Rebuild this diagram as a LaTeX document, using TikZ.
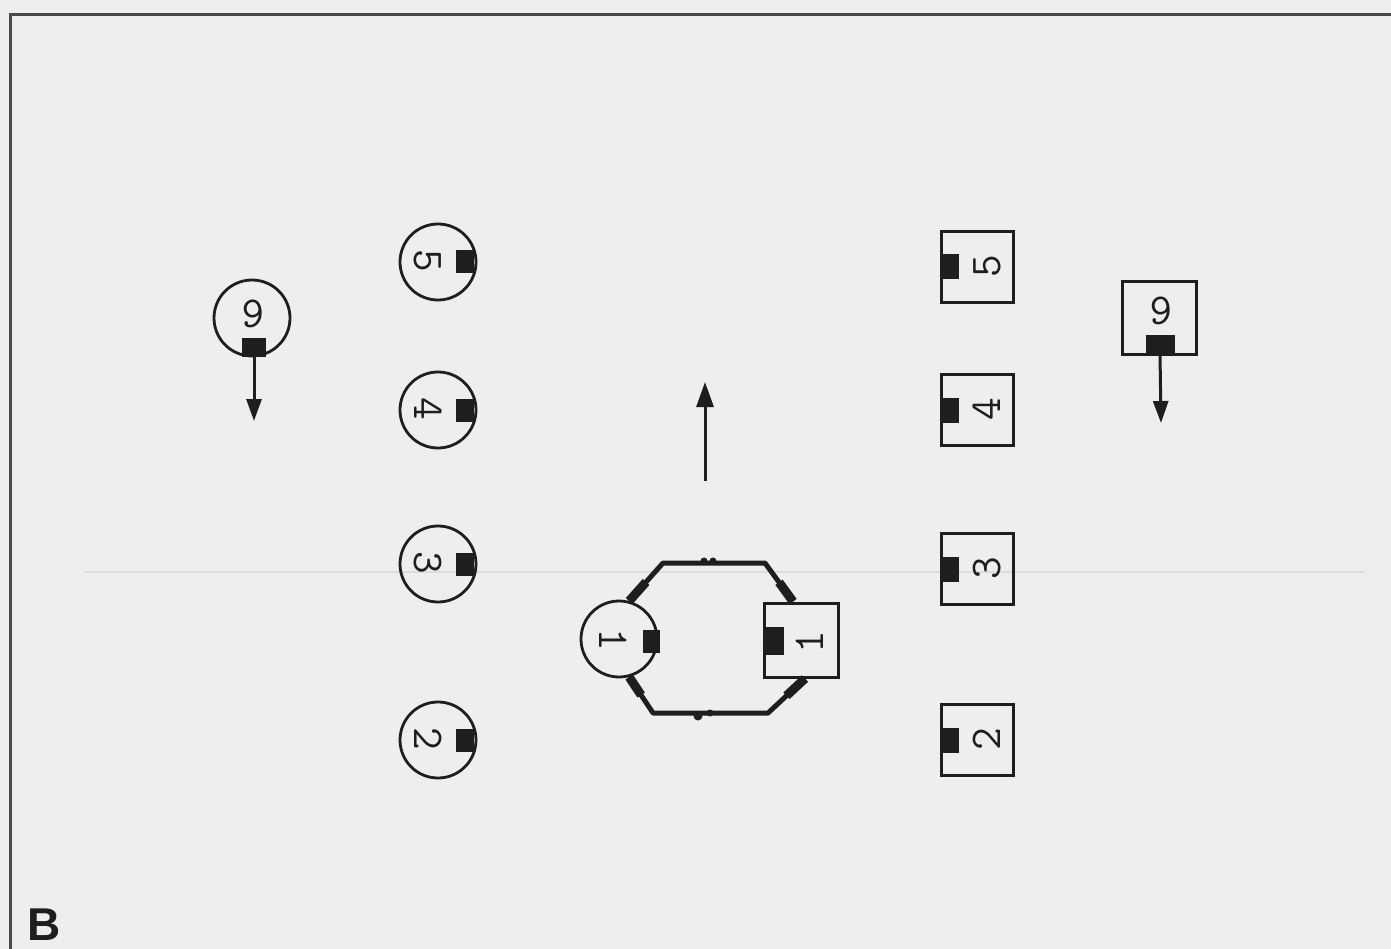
\documentclass[tikz,border=0pt]{standalone}
\usepackage{fontspec}
\usepackage{graphicx}
\newfontfamily\labfont{Liberation Sans}
\usetikzlibrary{arrows.meta,calc}
\definecolor{bgc}{HTML}{EEEEEE}
\definecolor{ink}{HTML}{1E1E1E}
\definecolor{framec}{HTML}{4A4A4A}
\definecolor{faint}{HTML}{DCDCDC}
\newcommand{\cwnum}[1]{\rotatebox[origin=c]{-90}{#1}}
\newcommand{\ccwnum}[1]{\rotatebox[origin=c]{90}{#1}}
\newcommand{\upsidenum}[1]{\rotatebox[origin=c]{180}{#1}}
\tikzset{
  pc/.style={circle, draw=ink, line width=2.8pt, minimum size=76pt, inner sep=0pt},
  ps/.style={rectangle, draw=ink, line width=3pt, minimum width=72pt, minimum height=71pt, inner sep=0pt},
  facev/.style={rectangle, fill=ink, inner sep=0pt, minimum width=18pt, minimum height=23pt},
  faceh/.style={rectangle, fill=ink, inner sep=0pt, minimum width=24pt, minimum height=19pt},
  num/.style={inner sep=0pt, text=ink, font=\ttfamily\fontsize{44}{44}\selectfont},
  move/.style={draw=ink, line width=3pt, -{Triangle[length=22pt,width=15pt]}},
  link/.style={draw=ink, line width=5pt, line join=round},
  linkend/.style={draw=ink, line width=9pt, line cap=butt},
  bump/.style={fill=ink, draw=none}
}
\begin{document}
\begin{tikzpicture}[x=1pt,y=-1pt]
\fill[bgc] (0,0) rectangle (1391,949);
\useasboundingbox (0,0) rectangle (1391,949);
% faint scan line
\draw[faint, line width=1.5pt] (85,572) -- (1365,572);
% frame
\draw[framec, line width=3pt] (10,949) -- (10,15) -- (1391,15);

% left circles (digits turned clockwise)
\foreach \n/\y in {5/262,4/410,3/564,2/740}{
  \node[pc] (L\n) at (438,\y) {};
  \node[facev] (LF\n) at (465,\y) {};
  \node[num] (LN\n) at (428,\y) {\cwnum{\n}};
}
% right squares (digits turned counter-clockwise)
\foreach \n/\y in {5/267,4/410,3/569,2/740}{
  \node[ps] (R\n) at (977,\y) {};
  \node[facev, minimum height=25pt] (RF\n) at (950,\y) {};
  \node[num] (RN\n) at (987,\y) {\ccwnum{\n}};
}
% player 6 left
\node[pc] (L6) at (252,318) {};
\node[faceh] (LF6) at (254,347) {};
\node[num] (LN6) at (253,314) {\upsidenum{6}};
\coordinate (LA6) at (254,421);
\draw[move] (LF6.south) -- (LA6);
% player 6 right
\node[ps, minimum width=74pt, minimum height=73pt] (R6) at (1159,318) {};
\node[faceh, minimum width=29pt] (RF6) at (1160,344) {};
\node[num] (RN6) at (1161,311) {\upsidenum{6}};
\coordinate (RA6) at (1161,423);
\draw[move] (RF6.south) -- (RA6);

% centre arrow
\coordinate (CA0) at (705,481);
\coordinate (CA1) at (705,382);
\draw[move, -{Triangle[length=25pt,width=17pt]}] (CA0) -- (CA1);

% centre pair
\node[pc] (C1) at (619,639) {};
\node[facev, minimum width=17pt] (CF1) at (651,641) {};
\node[num] (CN1) at (613,641) {\cwnum{1}};
\node[ps, minimum width=74pt, minimum height=74pt] (S1) at (801,640) {};
\node[facev, minimum width=19pt, minimum height=28pt] (SF1) at (774,641) {};
\node[num] (SN1) at (810,643) {\ccwnum{1}};

\coordinate (HT1) at (663,563);
\coordinate (HT2) at (765,563);
\coordinate (HB1) at (653,713);
\coordinate (HB2) at (768,713);
\coordinate (ST) at ($(S1.north)+(-8,0)$);
\coordinate (SB) at ($(S1.south)+(4,0)$);
\draw[link] (C1.75) -- (HT1) -- (HT2) -- (ST);
\draw[link] (C1.-75) -- (HB1) -- (HB2) -- (SB);
\draw[linkend] (C1.75) -- ($(C1.75)!0.5!(HT1)$);
\draw[linkend] (C1.-75) -- ($(C1.-75)!0.5!(HB1)$);
\draw[linkend] (ST) -- ($(ST)!0.5!(HT2)$);
\draw[linkend] (SB) -- ($(SB)!0.5!(HB2)$);
\fill[bump] (704,561) circle (3.5pt) (713,561) circle (3.5pt);
\fill[bump] (698,716) circle (4.5pt) (710,713) circle (3.5pt);

% panel label
\node[inner sep=0pt, anchor=base west, text=ink, font=\labfont\bfseries\fontsize{46}{46}\selectfont] (LB) at (27,940) {B};
\end{tikzpicture}
\end{document}
